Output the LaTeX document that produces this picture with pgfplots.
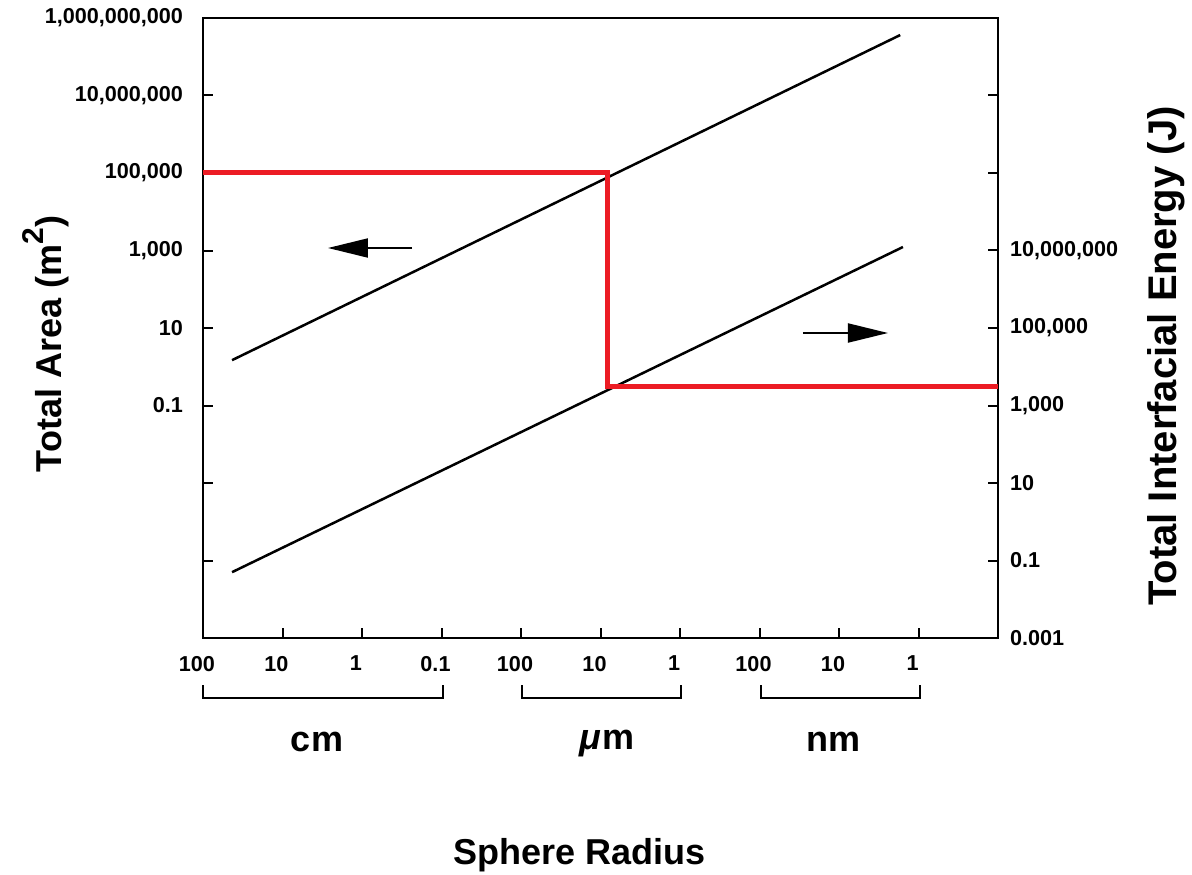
\documentclass[border=0pt]{standalone}
\usepackage{pgfplots}
\pgfplotsset{compat=1.18}
\usepackage{fontspec}
\setmainfont{Liberation Sans}
\usetikzlibrary{arrows.meta}
\definecolor{redline}{RGB}{236,28,36}
\begin{document}
\begin{tikzpicture}
\path[use as bounding box] (-101.5pt,-118pt) rectangle ++(596pt,437pt);
\begin{axis}[width=397.5pt, height=310pt, scale only axis,
  xmode=log, x dir=reverse, xmin=1e-10, xmax=1,
  ymode=log, xminorticks=false, yminorticks=false,
  tick align=inside, major tick length=5pt,
  axis line style={line width=1pt},
  tick style={line width=1pt, black},
  tick label style={font=\bfseries\fontsize{10.8}{12}\selectfont},
  clip=false,
  name=main, at={(0,0)}, anchor=south west,
  ymin=1e-7, ymax=1e9,
  xtick={1,1e-1,1e-2,1e-3,1e-4,1e-5,1e-6,1e-7,1e-8,1e-9},
  xticklabels={100,10,1,0.1,100,10,1,100,10,1},
  xtick pos=left, ytick pos=left,
  ytick={1e-5,1e-3,1e-1,1e1,1e3,1e5,1e7,1e9},
  yticklabels={,,0.1,10,{1,000},{100,000},{10,000,000},{1,000,000,000}},
  xticklabel style={xshift=-3pt, yshift=-5.5pt},
  yticklabel style={xshift=-6.5pt},
]
% Total area (left axis)
\addplot[black, line width=1.25pt] coordinates {(0.431,1.48) (1.70e-9,3.63e8)};
% red guide, area part
\addplot[redline, line width=2.5pt, line join=miter] coordinates {(1,1e5) (8.28e-6,1e5) (8.28e-6,0.316)};
% arrow pointing to left axis
\addplot[black, line width=1pt, -{Triangle[length=20pt,width=9.5pt]}] coordinates {(2.35e-3,1160) (0.0268,1160)};
\end{axis}
\begin{axis}[width=397.5pt, height=310pt, scale only axis,
  xmode=log, x dir=reverse, xmin=1e-10, xmax=1,
  ymode=log, xminorticks=false, yminorticks=false,
  tick align=inside, major tick length=5pt,
  axis line style={line width=1pt},
  tick style={line width=1pt, black},
  tick label style={font=\bfseries\fontsize{10.8}{12}\selectfont},
  clip=false,
  at={(0,0)}, anchor=south west,
  ymin=1e-3, ymax=1e13,
  axis x line=none, axis y line*=right, ytick pos=right,
  ytick={1e-3,1e-1,1e1,1e3,1e5,1e7,1e9,1e11},
  yticklabels={0.001,0.1,10,{1,000},{100,000},{10,000,000},,},
  yticklabel style={xshift=2.5pt},
]
% Total interfacial energy (right axis)
\addplot[black, line width=1.25pt] coordinates {(0.431,0.050) (1.57e-9,1.23e7)};
% red guide, energy part
\addplot[redline, line width=2.5pt, line join=miter] coordinates {(8.28e-6,1e9) (8.28e-6,3160) (1e-10,3160)};
% arrow pointing to right axis
\addplot[black, line width=1pt, -{Triangle[length=20pt,width=9.5pt]}] coordinates {(2.84e-8,74300) (2.42e-9,74300)};
\end{axis}
% unit brackets
\draw[line width=0.75pt] (0pt,-23.5pt) -- (0pt,-30pt) -- (120pt,-30pt) -- (120pt,-23.5pt);
\draw[line width=0.75pt] (159.5pt,-23.5pt) -- (159.5pt,-30pt) -- (239pt,-30pt) -- (239pt,-23.5pt);
\draw[line width=0.75pt] (279pt,-23.5pt) -- (279pt,-30pt) -- (358.5pt,-30pt) -- (358.5pt,-23.5pt);
\node[font=\bfseries\fontsize{18}{20}\selectfont] at (57pt,-52pt) {cm};
\node[font=\bfseries\fontsize{18}{20}\selectfont] at (202pt,-53pt) {{\itshape\char"03BC}\kern1pt m};
\node[font=\bfseries\fontsize{18}{20}\selectfont] at (315pt,-52pt) {nm};
\node[font=\bfseries\fontsize{18}{20}\selectfont] at (188.5pt,-108.5pt) {Sphere Radius};
\node[font=\bfseries\fontsize{18}{20}\selectfont, rotate=90] at (-78.5pt,147pt) {Total Area (m\raisebox{0.5em}{\fontsize{15}{15}\selectfont 2})};
\node[font=\bfseries\fontsize{20}{22}\selectfont, rotate=90] at (481.5pt,141pt) {Total Interfacial Energy (J)};
\end{tikzpicture}
\end{document}
